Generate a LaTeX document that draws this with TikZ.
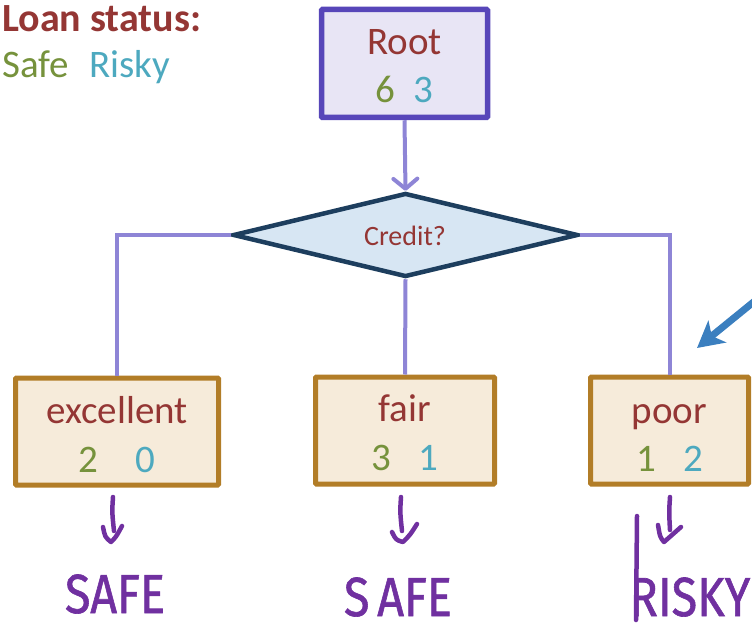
\documentclass[tikz,border=0pt]{standalone}
\usepackage{fontspec}
\usepackage{graphicx}
\setmainfont{Carlito}
\newfontfamily\handfont[FakeBold=1.2]{Fira Sans}
\usetikzlibrary{shapes.geometric,arrows.meta}

\definecolor{titlered}{HTML}{943634}
\definecolor{safegreen}{HTML}{76923C}
\definecolor{riskyteal}{HTML}{4DA9BF}
\definecolor{rootline}{HTML}{5746B9}
\definecolor{rootfill}{HTML}{E8E5F5}
\definecolor{linklav}{HTML}{8E85D6}
\definecolor{qline}{HTML}{1D3E5E}
\definecolor{qfill}{HTML}{D7E6F3}
\definecolor{leafline}{HTML}{B27D27}
\definecolor{leaffill}{HTML}{F6EBDA}
\definecolor{cueblue}{HTML}{3B7FBF}
\definecolor{ink}{HTML}{7030A0}

\tikzset{
  big/.style={font=\fontsize{39}{41}\selectfont, inner sep=0pt, anchor=base},
  label/.style={big, text=titlered},
  nsafe/.style={big, text=safegreen},
  nrisky/.style={big, text=riskyteal},
  rootbox/.style={draw=rootline, fill=rootfill, line width=5.5pt, rounded corners=1pt,
    minimum width=166pt, minimum height=108pt, inner sep=0pt},
  leafbox/.style={draw=leafline, fill=leaffill, line width=5pt, rounded corners=1pt,
    minimum height=107pt, inner sep=0pt},
  question/.style={diamond, draw=qline, fill=qfill, line width=4.5pt,
    minimum width=345pt, minimum height=84pt, inner sep=0pt},
  link/.style={draw=linklav, line width=4pt},
  cue/.style={draw=cueblue, line width=7pt, -{Stealth[length=26pt,width=28pt,inset=7pt]}},
  hand/.style={draw=ink, line width=4.5pt, line cap=round, line join=round},
  handtext/.style={text=ink, inner sep=0pt, anchor=base,
    font=\handfont\fontsize{55}{57}\selectfont},
}

\begin{document}
\begin{tikzpicture}[x=1pt,y=-1pt]
\useasboundingbox (0,0) rectangle (752,631);

% legend
\node[anchor=base west, inner sep=0pt, text=titlered,
  font=\bfseries\fontsize{40}{42}\selectfont] (legtitle) at (2,32) {Loan status:};
\node[anchor=base west, inner sep=0pt, text=safegreen,
  font=\fontsize{39}{41}\selectfont] (legsafe) at (2,78) {Safe};
\node[anchor=base west, inner sep=0pt, text=riskyteal,
  font=\fontsize{39}{41}\selectfont] (legrisky) at (89,78) {Risky};

% boxes
\node[rootbox] (root) at (404.5,63.5) {};
\node[question] (credit) at (405.5,235) {};
\node[leafbox, minimum width=203pt] (exc) at (117,431.5) {};
\node[leafbox, minimum width=179pt] (fair) at (405,430.5) {};
\node[leafbox, minimum width=158pt] (poor) at (669.5,430.5) {};

% texts in boxes
\node[label] (rootname) at (404.5,55) {Root};
\node[nsafe] (rootsafe) at (385,103) {6};
\node[nrisky] (rootrisky) at (423,103) {3};

\node[inner sep=0pt, anchor=base, text=titlered, font=\fontsize{28}{30}\selectfont]
  (credittext) at (405,245) {Credit?};

\node[label] (excname) at (117,423) {excellent};
\node[nsafe] (excsafe) at (88,472) {2};
\node[nrisky] (excrisky) at (145,472) {0};

\node[label] (fairname) at (405,421) {fair};
\node[nsafe] (fairsafe) at (381,470) {3};
\node[nrisky] (fairrisky) at (428,470) {1};

\node[label] (poorname) at (669.5,423) {poor};
\node[nsafe] (poorsafe) at (646,471) {1};
\node[nrisky] (poorrisky) at (693,471) {2};

% connectors
\draw[link, -{Straight Barb[length=10pt,width=24pt,round]}] (root.south) -- (credit.north);
\draw[link] (credit.west) -| (exc.north);
\draw[link] (credit.south) -- (fair.north);
\draw[link] (credit.east) -| (poor.north);

% pointer arrow
\coordinate (cuefrom) at (756,300);
\coordinate (cueto) at (697,348);
\draw[cue] (cuefrom) -- (cueto);

% handwritten arrows
\draw[hand] (113,497) .. controls (112,512) .. (114,531);
\draw[hand] (103,527) .. controls (105,537) .. (111,542) .. controls (116,537) .. (122,526);
\draw[hand] (401,497) .. controls (400,512) .. (402,531);
\draw[hand] (392,532) .. controls (396,540) .. (403,542) .. controls (410,535) .. (417,524);
\draw[hand] (670,497) .. controls (669,512) .. (670,530);
\draw[hand] (658,525) .. controls (660,537) .. (664,542) .. controls (672,535) .. (681,527);
\draw[hand] (637,516) -- (636,620);

% handwritten outcomes
\node[handtext] (out1) at (115,613) {\scalebox{0.85}[1]{SAFE}};
\node[handtext] (out2) at (398,616) {\scalebox{0.85}[1]{S\,AFE}};
\node[handtext] (out3) at (690,616) {\scalebox{0.85}[1]{RISKY}};
\end{tikzpicture}
\end{document}
